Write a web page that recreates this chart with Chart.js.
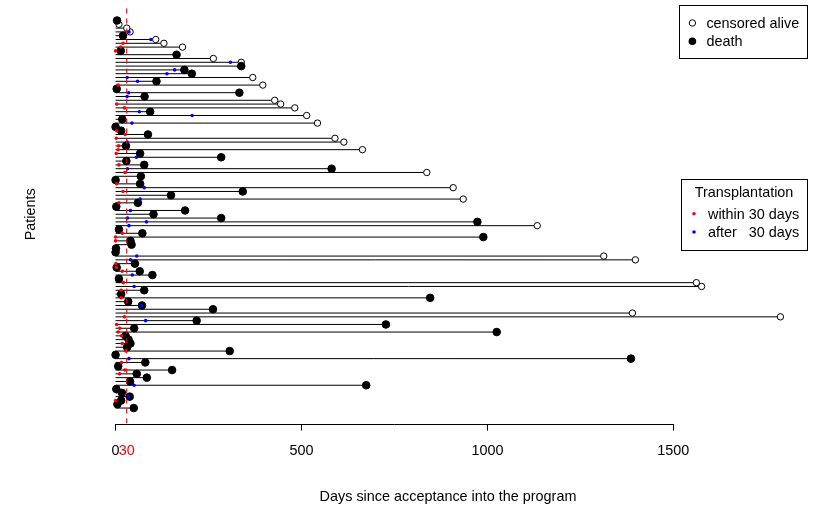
<!DOCTYPE html>
<html>
<head>
<meta charset="utf-8">
<title>Heart transplant programme - patient follow-up</title>
<script src="https://cdn.jsdelivr.net/npm/chart.js@4.4.1/dist/chart.umd.min.js"></script>
<style>
  html, body { margin: 0; padding: 0; background: #fff; }
  #chartBox { width: 814px; height: 508px; }
</style>
</head>
<body>
<div id="chartBox"><canvas id="patientChart" width="814" height="508"></canvas></div>
<script>
// one entry per patient, bottom row = patient 1
const futime = [
    49, 5, 15, 38, 17, 2, 674, 39, 84, 57,
    152, 7, 80, 1386, 0, 307, 31, 40, 35, 27,
    1025, 50, 727, 218, 1788, 1390, 262, 71, 34, 846,
    15, 77, 1576, 1562, 9, 99, 65, 3, 52, 1398,
    1313, 0, 1, 43, 40, 989, 72, 9, 1134, 973,
    284, 102, 187, 2, 60, 935, 149, 342, 908, 66,
    0, 68, 837, 581, 77, 29, 284, 66, 664, 28,
    614, 590, 87, 15, 0, 543, 18, 514, 93, 482,
    444, 428, 78, 333, 3, 396, 110, 369, 205, 185,
    338, 338, 263, 164, 14, 180, 130, 108, 20, 39,
    30, 9, 4
];
// 1 = death, 0 = censored alive
const died = [
    1, 1, 1, 1, 1, 1, 1, 1, 1, 1,
    1, 1, 1, 1, 1, 1, 1, 1, 1, 1,
    1, 1, 1, 1, 0, 0, 1, 1, 1, 1,
    1, 1, 0, 0, 1, 1, 1, 1, 1, 0,
    0, 1, 1, 1, 1, 1, 1, 1, 0, 1,
    1, 1, 1, 1, 1, 0, 1, 1, 0, 1,
    1, 1, 0, 1, 1, 1, 1, 1, 0, 1,
    0, 0, 1, 1, 1, 0, 1, 0, 1, 0,
    0, 0, 1, 1, 1, 0, 1, 0, 1, 1,
    1, 0, 0, 1, 1, 0, 0, 0, 1, 0,
    0, 0, 1
];
// days from acceptance to transplant, null = no transplant
const waitTime = [
    null, null, 0, 35, null, null, 50, null, null, 11,
    25, null, 16, 36, null, 27, null, 18, null, 16,
    7, 11, 3, 81, 24, null, null, 69, null, 15,
    null, 15, 50, 21, null, 45, 18, 2, 1, 40,
    57, null, null, null, 0, 0, 18, null, 36, 83,
    32, null, 40, null, 9, 66, null, 20, 77, 3,
    null, null, 25, 32, 9, null, 56, 2, 7, 8,
    31, 2, 26, 3, null, 44, null, 206, 64, 24,
    3, null, 31, 35, null, 7, 59, 31, 138, 159,
    null, 309, null, null, 0, 14, 20, 95, null, 36,
    null, null, null
];
const xTicks = [0, 30, 500, 1000, 1500];
const cutoff = 30;

const fontFamily = '"Liberation Sans", Arial, Helvetica, sans-serif';
const fontSize = 14.4;

// horizontal follow-up lines, broken with NaN points
const segments = [];
futime.forEach((t, i) => {
    segments.push({ x: 0, y: i + 1 }, { x: t, y: i + 1 }, { x: NaN, y: NaN });
});

const deathPts = [];
const alivePts = [];
const earlyTx = [];
const lateTx = [];
futime.forEach((t, i) => {
    (died[i] ? deathPts : alivePts).push({ x: t, y: i + 1 });
    const w = waitTime[i];
    if (w !== null) {
        (w <= cutoff ? earlyTx : lateTx).push({ x: w, y: i + 1 });
    }
});

const nRows = futime.length;
const xMax = Math.max(...futime);

function drawLegendBox(c, left, top, width, height, title, items) {
    c.strokeStyle = '#000';
    c.lineWidth = 1;
    c.strokeRect(Math.round(left) + 0.5, Math.round(top) + 0.5, Math.round(width), Math.round(height));
    c.font = fontSize + 'px ' + fontFamily;
    c.textBaseline = 'middle';
    c.fillStyle = '#000';
    let y = top + 18;
    if (title) {
        c.textAlign = 'center';
        c.fillText(title, left + width / 2, top + 14);
        y = top + 35;
    }
    c.textAlign = 'left';
    items.forEach(item => {
        c.beginPath();
        c.arc(left + 13, y, item.r, 0, Math.PI * 2);
        if (item.open) {
            c.fillStyle = '#fff';
            c.fill();
            c.stroke();
        } else {
            c.fillStyle = item.color;
            c.fill();
        }
        c.fillStyle = '#000';
        c.fillText(item.label, left + 27, y + 1);
        y += 18.3;
    });
}

const extras = {
    id: 'extras',
    afterDraw(chart) {
        const c = chart.ctx;
        const area = chart.chartArea;
        const x = chart.scales.x;
        c.save();
        // R style axis line, only from first to last tick
        c.strokeStyle = '#000';
        c.lineWidth = 1;
        const yLine = Math.round(area.bottom) + 0.5;
        c.beginPath();
        c.moveTo(x.getPixelForValue(0), yLine);
        c.lineTo(x.getPixelForValue(1500), yLine);
        c.stroke();

        drawLegendBox(c, area.right - 127.6, area.top, 127.6, 53.3, null, [
            { label: 'censored alive', open: true, r: 3.2 },
            { label: 'death', color: '#000', r: 3.8 }
        ]);
        const mid = (area.top + area.bottom) / 2;
        drawLegendBox(c, area.right - 126, mid - 35.5, 126, 71, 'Transplantation', [
            { label: 'within 30 days', color: '#FF0000', r: 1.8 },
            { label: 'after   30 days', color: '#0000FF', r: 1.8 }
        ]);
        c.restore();
    }
};

document.addEventListener('DOMContentLoaded', function() {
    Chart.defaults.font.family = fontFamily;
    Chart.defaults.font.size = fontSize;
    Chart.defaults.color = '#000';

    const ctx = document.getElementById('patientChart').getContext('2d');
    new Chart(ctx, {
        type: 'scatter',
        data: {
            datasets: [
                {
                    label: 'cutoff',
                    data: [{ x: cutoff, y: -0.04 * (nRows - 1) + 1 }, { x: cutoff, y: nRows + 0.04 * (nRows - 1) }],
                    showLine: true,
                    borderColor: '#FF0000',
                    borderWidth: 1.2,
                    borderDash: [5, 5],
                    pointRadius: 0
                },
                {
                    label: 'within 30 days',
                    data: earlyTx,
                    pointRadius: 1.8,
                    pointBorderWidth: 0,
                    backgroundColor: '#FF0000',
                    borderColor: '#FF0000'
                },
                {
                    label: 'after 30 days',
                    data: lateTx,
                    pointRadius: 1.8,
                    pointBorderWidth: 0,
                    backgroundColor: '#0000FF',
                    borderColor: '#0000FF'
                },
                {
                    label: 'death',
                    data: deathPts,
                    pointRadius: 3.8,
                    pointBorderWidth: 1,
                    backgroundColor: '#000',
                    borderColor: '#000'
                },
                {
                    label: 'censored alive',
                    data: alivePts,
                    pointRadius: 3.2,
                    pointBorderWidth: 1,
                    backgroundColor: '#fff',
                    borderColor: '#000'
                },
                {
                    label: 'follow-up',
                    data: segments,
                    showLine: true,
                    spanGaps: false,
                    borderColor: '#000',
                    borderWidth: 1,
                    pointRadius: 0
                }
            ]
        },
        options: {
            responsive: false,
            animation: false,
            events: [],
            layout: {
                padding: { left: 0, right: 7, top: 5, bottom: 0 }
            },
            plugins: {
                legend: { display: false },
                tooltip: { enabled: false }
            },
            scales: {
                x: {
                    type: 'linear',
                    min: -0.04 * xMax,
                    max: 1.04 * xMax,
                    afterBuildTicks: scale => {
                        scale.ticks = xTicks.map(v => ({ value: v }));
                    },
                    border: { display: false },
                    grid: {
                        drawOnChartArea: false,
                        drawTicks: true,
                        tickLength: 7,
                        color: c => (c.tick && c.tick.value === cutoff) ? 'rgba(0,0,0,0)' : '#000'
                    },
                    ticks: {
                        autoSkip: false,
                        maxRotation: 0,
                        padding: 11.4,
                        color: c => (c.tick && c.tick.value === cutoff) ? '#FF0000' : '#000',
                        callback: v => String(v)
                    },
                    title: {
                        display: true,
                        text: 'Days since acceptance into the program',
                        padding: { top: 17.7, bottom: 2.4 }
                    }
                },
                y: {
                    type: 'linear',
                    min: 1 - 0.04 * (nRows - 1),
                    max: nRows + 0.04 * (nRows - 1),
                    border: { display: false },
                    grid: { display: false, drawTicks: false },
                    ticks: { display: false },
                    title: {
                        display: true,
                        text: 'Patients',
                        padding: { top: 22, bottom: 49.7 }
                    }
                }
            }
        },
        plugins: [extras]
    });
});
</script>
</body>
</html>
